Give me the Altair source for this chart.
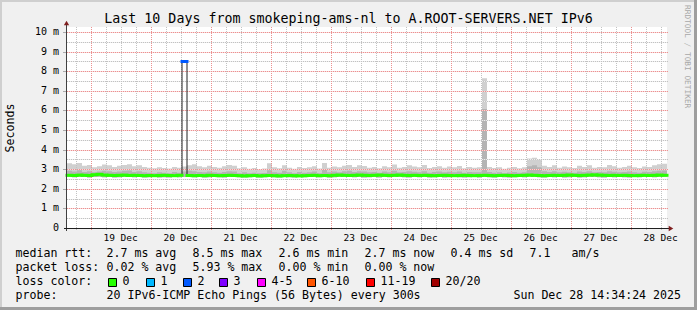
import altair as alt
import pandas as pd

# ---------------- data ----------------
# 2-hour bins starting at 18 Dec 14:34:24, values in milliseconds (axis unit "m" = 1e-3 s)
HI = [3.30, 3.25, 3.32, 3.18, 3.22, 3.10, 3.15, 3.24, 3.20, 3.12,
      3.18, 3.22, 3.25, 3.15, 3.20, 3.12, 3.08, 3.05, 3.10, 3.06,
      3.04, 3.12, 3.08, 3.14, 3.20, 3.26, 3.15, 3.10, 3.18, 3.12,
      3.08, 3.15, 3.22, 3.18, 3.05, 3.10, 3.02, 3.06, 3.00, 3.04,
      3.30, 3.10, 3.05, 3.20, 3.08, 3.02, 3.12, 3.06, 3.10, 3.15,
      3.04, 3.32, 3.08, 3.14, 3.10, 3.18, 3.22, 3.12, 3.20, 3.16,
      3.08, 3.12, 3.05, 3.15, 3.10, 3.24, 3.08, 3.12, 3.20, 3.14,
      3.10, 3.22, 3.06, 3.12, 3.15, 3.08, 3.14, 3.10, 3.16, 3.05,
      3.12, 3.08, 3.10, 7.65, 3.12, 3.06, 3.10, 3.02, 3.08, 3.12,
      3.05, 3.10, 3.55, 3.58, 3.50, 3.18, 3.12, 3.20, 3.08, 3.14,
      3.10, 3.06, 3.18, 3.12, 3.20, 3.08, 3.12, 3.10, 3.22, 3.15,
      3.08, 3.12, 3.18, 3.10, 3.06, 3.14, 3.12, 3.20, 3.25, 3.28]
MID = [2.92, 2.88, 2.95, 2.86, 2.90, 2.84, 2.88, 2.92, 2.90, 2.86,
       2.88, 2.92, 2.94, 2.86, 2.90, 2.84, 2.82, 2.80, 2.84, 2.82,
       2.80, 2.86, 2.82, 2.88, 2.92, 2.90, 2.86, 2.84, 2.88, 2.85,
       2.82, 2.86, 2.90, 2.88, 2.80, 2.84, 2.80, 2.82, 2.79, 2.81,
       2.95, 2.84, 2.82, 2.92, 2.84, 2.80, 2.86, 2.82, 2.84, 2.88,
       2.80, 2.96, 2.84, 2.88, 2.85, 2.90, 2.92, 2.86, 2.90, 2.88,
       2.84, 2.86, 2.82, 2.88, 2.85, 2.92, 2.84, 2.86, 2.90, 2.87,
       2.85, 2.90, 2.82, 2.86, 2.88, 2.84, 2.87, 2.85, 2.88, 2.82,
       2.86, 2.84, 2.85, 6.07, 2.86, 2.82, 2.84, 2.80, 2.83, 2.86,
       2.82, 2.85, 3.15, 3.20, 3.10, 2.90, 2.86, 2.90, 2.84, 2.87,
       2.85, 2.82, 2.88, 2.86, 2.90, 2.84, 2.86, 2.85, 2.90, 2.87,
       2.84, 2.86, 2.88, 2.85, 2.82, 2.87, 2.86, 2.90, 2.92, 2.94]
LO = [2.60, 2.59, 2.61, 2.60, 2.58, 2.60, 2.61, 2.59, 2.60, 2.58,
      2.59, 2.60, 2.61, 2.59, 2.60, 2.58, 2.59, 2.60, 2.58, 2.59,
      2.58, 2.60, 2.59, 2.60, 2.61, 2.59, 2.60, 2.58, 2.59, 2.60,
      2.59, 2.58, 2.60, 2.61, 2.59, 2.58, 2.59, 2.60, 2.58, 2.59,
      2.60, 2.59, 2.58, 2.60, 2.59, 2.58, 2.60, 2.59, 2.60, 2.61,
      2.59, 2.60, 2.58, 2.59, 2.60, 2.61, 2.60, 2.59, 2.60, 2.58,
      2.59, 2.60, 2.58, 2.60, 2.59, 2.61, 2.60, 2.59, 2.58, 2.60,
      2.59, 2.60, 2.58, 2.59, 2.60, 2.58, 2.59, 2.60, 2.59, 2.58,
      2.59, 2.60, 2.58, 2.60, 2.59, 2.58, 2.60, 2.59, 2.58, 2.59,
      2.60, 2.59, 2.61, 2.60, 2.59, 2.58, 2.60, 2.59, 2.60, 2.58,
      2.59, 2.60, 2.58, 2.59, 2.61, 2.60, 2.59, 2.58, 2.60, 2.59,
      2.60, 2.59, 2.58, 2.60, 2.59, 2.61, 2.60, 2.59, 2.60, 2.61]
MED = [2.69, 2.68, 2.70, 2.69, 2.68, 2.72, 2.74, 2.70, 2.69, 2.68,
       2.69, 2.70, 2.68, 2.69, 2.68, 2.67, 2.68, 2.67, 2.68, 2.69,
       2.68, 2.67, 2.69, 8.50, 2.68, 2.67, 2.68, 2.67, 2.69, 2.68,
       2.67, 2.68, 2.69, 2.68, 2.67, 2.66, 2.67, 2.68, 2.66, 2.67,
       2.68, 2.67, 2.66, 2.67, 2.68, 2.67, 2.66, 2.67, 2.68, 2.69,
       2.67, 2.68, 2.67, 2.69, 2.70, 2.69, 2.68, 2.69, 2.70, 2.69,
       2.68, 2.69, 2.70, 2.69, 2.68, 2.69, 2.70, 2.69, 2.68, 2.69,
       2.68, 2.69, 2.68, 2.67, 2.68, 2.69, 2.68, 2.67, 2.68, 2.69,
       2.68, 2.67, 2.68, 2.69, 2.68, 2.67, 2.68, 2.69, 2.68, 2.67,
       2.68, 2.69, 2.70, 2.69, 2.68, 2.67, 2.68, 2.69, 2.68, 2.69,
       2.70, 2.69, 2.68, 2.69, 2.70, 2.71, 2.70, 2.69, 2.68, 2.69,
       2.68, 2.69, 2.68, 2.67, 2.68, 2.69, 2.68, 2.69, 2.70, 2.69]
LOSS = [0] * 23 + [2] + [0] * 96   # lost pings (of 20) per bin

LOSS_NAMES = ["0", "1", "2", "3", "4-5", "6-10", "11-19", "20/20"]
LOSS_COLORS = ["#26ff00", "#00b8ff", "#0059ff", "#7e00ff", "#ff00ff", "#ff5500", "#ff0000", "#a10000"]
DAY_LABELS = ["19 Dec", "20 Dec", "21 Dec", "22 Dec", "23 Dec", "24 Dec", "25 Dec", "26 Dec", "27 Dec", "28 Dec"]
Y_TICKS = [0, 1, 2, 3, 4, 5, 6, 7, 8, 9, 10]

TITLE = "Last 10 Days from smokeping-ams-nl to A.ROOT-SERVERS.NET IPv6"
LEGEND_ROW1 = ["median rtt:", "2.7 ms avg", "8.5 ms max", "2.6 ms min", "2.7 ms now", "0.4 ms sd", "7.1", "am/s"]
LEGEND_ROW2 = ["packet loss:", "0.02 % avg", "5.93 % max", "0.00 % min", "0.00 % now"]
PROBE = "20 IPv6-ICMP Echo Pings (56 Bytes) every 300s"
STAMP = "Sun Dec 28 14:34:24 2025"

# ---------------- layout ----------------
MONO = "DejaVu Sans Mono"
OX, OY = 67, 27          # plot origin in the page
W, H = 600, 201
T0 = 14 + 34 / 60 + 24 / 3600   # hours since 18 Dec 00:00
BIN_H = 2
YMAX = 10.26

XS = alt.Scale(domain=[T0, T0 + 240], nice=False, zero=False)
YS = alt.Scale(domain=[0, YMAX], nice=False, zero=False)


def loss_cat(n):
    if n <= 3:
        return LOSS_NAMES[n]
    if n <= 5:
        return "4-5"
    if n <= 10:
        return "6-10"
    if n <= 19:
        return "11-19"
    return "20/20"


N = len(MED)
hours = [T0 + BIN_H * i for i in range(N + 1)]


def ext(a):
    return list(a) + [a[-1]]


smoke = pd.DataFrame({"h": hours, "lo": ext(LO), "mid": ext(MID), "hi": ext(HI), "med": ext(MED)})
segs = pd.DataFrame({"h": hours[:-1], "h2": hours[1:], "med": MED, "loss": [loss_cat(n) for n in LOSS]})

vmaj = pd.DataFrame({"h": [24 * d for d in range(1, 11)]})
vmin = pd.DataFrame({"h": [6 * k for k in range(1, 60) if (6 * k) % 24 != 0 and T0 <= 6 * k <= T0 + 240]})
hmaj = pd.DataFrame({"v": [float(v) for v in range(1, 11)]})
hmin = pd.DataFrame({"v": [v + 0.5 for v in range(0, 10)]})
xlab = pd.DataFrame({"h": [24 * d + 12 for d in range(1, 11)], "lab": DAY_LABELS})
ylab = pd.DataFrame({"v": Y_TICKS, "lab": ["0" if v == 0 else f"{v} m" for v in Y_TICKS]})

X = lambda f="h": alt.X(f"{f}:Q", scale=XS, axis=None)
Y = lambda f: alt.Y(f"{f}:Q", scale=YS, axis=None)
CRISP_X = alt.value({"expr": "round(scale('x', datum.h)) + 0.5"})
CRISP_Y = alt.value({"expr": "round(scale('y', datum.v)) + 0.5"})
CRISP_Y2 = alt.value({"expr": "round(scale('y', datum.v)) + 0.52"})

layers = []

# smoke
layers.append(alt.Chart(smoke).mark_area(interpolate="step-after", color="#d0d0d0").encode(
    x=X(), y=Y("lo"), y2="hi:Q"))
layers.append(alt.Chart(smoke).mark_area(interpolate="step-after", color="#b4b4b4").encode(
    x=X(), y=Y("lo"), y2="mid:Q"))

# grid (pixel-snapped, dotted)
GRID_MIN = dict(color="#c2c2c2", strokeDash=[1, 1], strokeWidth=1)
GRID_MAJ = dict(color="#ec9090", strokeDash=[1, 1], strokeWidth=1)
# faint solid base under the horizontal dotted lines
layers.append(alt.Chart(hmin).mark_rule(color="#eeeeee", strokeWidth=1).encode(
    y=CRISP_Y, x=alt.value(0), x2=alt.value(W + 1)))
layers.append(alt.Chart(hmaj).mark_rule(color="#f8dada", strokeWidth=1).encode(
    y=CRISP_Y, x=alt.value(0), x2=alt.value(W + 1)))
layers.append(alt.Chart(hmaj).mark_rule(color="#aaaaaa", strokeWidth=1).encode(
    y=CRISP_Y, x=alt.value(-4), x2=alt.value(0)))
layers.append(alt.Chart(vmin).mark_rule(**GRID_MIN).encode(
    x=CRISP_X, y=alt.value(0), y2=alt.value(H + 2)))
layers.append(alt.Chart(hmin).mark_rule(**GRID_MIN).encode(
    y=CRISP_Y, y2=CRISP_Y2, x=alt.value(0), x2=alt.value(W + 1)))
layers.append(alt.Chart(vmaj).mark_rule(**GRID_MAJ).encode(
    x=CRISP_X, y=alt.value(0), y2=alt.value(H + 2)))
layers.append(alt.Chart(hmaj).mark_rule(**GRID_MAJ).encode(
    y=CRISP_Y, y2=CRISP_Y2, x=alt.value(0), x2=alt.value(W + 1)))

# median
layers.append(alt.Chart(smoke).mark_line(interpolate="step-after", color="#202020", strokeWidth=1).encode(
    x=X(), y=Y("med")))
layers.append(alt.Chart(segs).mark_rule(strokeWidth=3, strokeCap="square").encode(
    x=X(), x2="h2:Q", y=Y("med"),
    color=alt.Color("loss:N", scale=alt.Scale(domain=LOSS_NAMES, range=LOSS_COLORS), legend=None)))

# tick labels
layers.append(alt.Chart(xlab).mark_text(align="center", baseline="top", font=MONO, fontSize=9.5,
                                        color="black").encode(x=X(), y=alt.value(H + 5), text="lab:N"))
layers.append(alt.Chart(ylab).mark_text(align="right", baseline="middle", font=MONO, fontSize=10,
                                        color="black").encode(y=Y("v"), x=alt.value(-8), text="lab:N"))

ONE = alt.Data(values=[{}])

# axes lines and arrows
layers.append(alt.Chart(ONE).mark_rule(color="#404040", strokeWidth=1).encode(
    x=alt.value(-0.5), y=alt.value(H + 3), y2=alt.value(-4)))
layers.append(alt.Chart(ONE).mark_rule(color="#1f1f1f", strokeWidth=1).encode(
    y=alt.value(H + 0.5), x=alt.value(-3), x2=alt.value(W + 3)))
layers.append(alt.Chart(ONE).mark_point(shape="triangle-up", filled=True, color="#7f1f1f", size=28, opacity=1).encode(
    x=alt.value(-0.5), y=alt.value(-4)))
layers.append(alt.Chart(ONE).mark_point(shape="triangle-right", filled=True, color="#7f1f1f", size=28, opacity=1).encode(
    x=alt.value(W + 4), y=alt.value(H + 0.5)))


def txt(s, x, y, size=11.6, align="left", angle=None, color="black"):
    kw = dict(text=s, align=align, baseline="middle", font=MONO, fontSize=size, color=color)
    if angle is not None:
        kw["angle"] = angle
    return alt.Chart(ONE).mark_text(**kw).encode(x=alt.value(x - OX), y=alt.value(y - OY))


# title / side texts
layers.append(txt(TITLE, 348.5, 19, size=13.3, align="center"))
layers.append(txt("Seconds", 11, 128, size=11.6, align="center", angle=270))
layers.append(txt("RRDTOOL / TOBI OETIKER", 687, 5, size=7.8, align="left", angle=90, color="#a8a8a8"))

# legend rows
ROW1_X = [16, 107, 193, 279, 365, 451, 530, 572]
ROW2_X = [16, 107, 193, 279, 365]
for s, x in zip(LEGEND_ROW1, ROW1_X):
    layers.append(txt(s, x - 0.5, 254))
for s, x in zip(LEGEND_ROW2, ROW2_X):
    layers.append(txt(s, x - 0.5, 268))
layers.append(txt("loss color:", 15.5, 282))
BOX_X = [108, 146, 183, 219, 257, 307, 366, 431]
for name, col, bx in zip(LOSS_NAMES, LOSS_COLORS, BOX_X):
    layers.append(alt.Chart(ONE).mark_rect(fill=col, stroke="black", strokeWidth=1).encode(
        x=alt.value(bx - OX + 0.5), x2=alt.value(bx + 8.5 - OX), y=alt.value(278 - OY + 0.5),
        y2=alt.value(286.5 - OY)))
    layers.append(txt(name, bx + 14.5, 282))
layers.append(txt("probe:", 15.5, 296))
layers.append(txt(PROBE, 106.5, 296))
layers.append(txt(STAMP, 681, 296, align="right"))

# bevel frame
FW, FH = 697, 310


def frame(x1, x2, y1, y2, col):
    return alt.Chart(ONE).mark_rect(color=col).encode(
        x=alt.value(x1 - OX), x2=alt.value(x2 - OX), y=alt.value(y1 - OY), y2=alt.value(y2 - OY))


layers.append(frame(0, FW, 0, 2, "#cfcfcf"))
layers.append(frame(0, 2, 0, FH, "#cfcfcf"))
layers.append(frame(0, FW, FH - 3, FH, "#9e9e9e"))
layers.append(frame(FW - 3, FW, 0, FH, "#9e9e9e"))

chart = alt.layer(*layers).properties(
    width=W, height=H, background="#f0f0f0",
    padding={"left": OX, "top": OY, "right": FW - OX - W, "bottom": FH - OY - H},
    autosize=alt.AutoSizeParams(type="none"),
).configure_view(stroke=None, fill="white")

chart.save("out.html", embed_options={"renderer": "svg", "actions": False})
